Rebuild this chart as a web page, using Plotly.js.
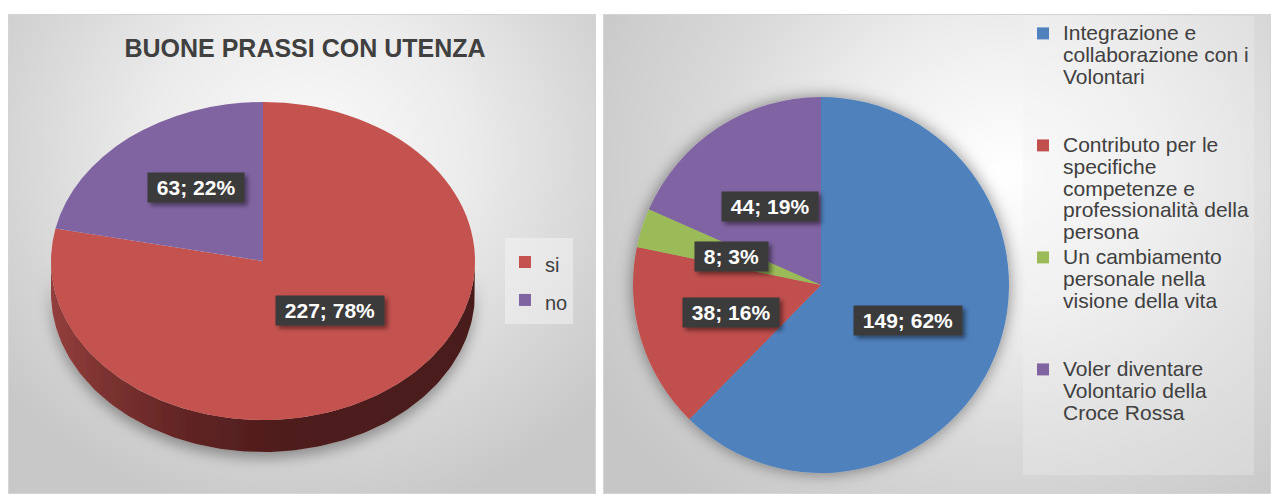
<!DOCTYPE html>
<html><head><meta charset="utf-8">
<script src="https://cdn.plot.ly/plotly-3.0.1.min.js"></script>
<style>
html,body{margin:0;padding:0;background:#fff;}
body{width:1271px;height:494px;position:relative;overflow:hidden;}
.panel{position:absolute;top:14px;height:480px;box-shadow:inset 0 0 0 1px #d4d4d4;}
#p1{left:8px;width:588px;background:radial-gradient(ellipse 390px 370px at 300px 140px,#fafafa 0%,#ececec 40%,#d6d6d6 75%,#c8c8c8 100%);}
#p2{left:603px;width:668px;background:radial-gradient(ellipse 470px 430px at 400px 160px,#ffffff 0%,#ededed 35%,#d8d8d8 65%,#c6c6c6 100%);}
</style></head><body>
<div id="p1" class="panel"></div>
<div id="p2" class="panel"></div>
<script>
// ---- data ----
const leftTitle = 'BUONE PRASSI CON UTENZA';
const leftLabels = ['si', 'no'];
const leftValues = [227, 63];
const leftPct = [78, 22];
const rightLabels = [
  'Integrazione e collaborazione con i Volontari',
  'Contributo per le specifiche competenze e professionalità della persona',
  'Un cambiamento personale nella visione della vita',
  'Voler diventare Volontario della Croce Rossa'
];
const rightValues = [149, 38, 8, 44];
const rightPct = [62, 16, 3, 19];

// ---- style ----
const FONT = 'Liberation Sans, Arial, sans-serif';
const leftColors = ['#C4524F', '#8064A2'];
const rightColors = ['#4F81BD', '#C0504D', '#9BBB59', '#8064A2'];
const H = 480;
// left geometry (px inside panel)
const W1 = 588, cx1 = 255, cy1 = 247, rx1 = 212, ry1 = 159, depth = 32;
// right geometry
const W2 = 668, cx2 = 218, cy2 = 271, r2 = 188;

function midAngles(vals) {
  const tot = vals.reduce((a, b) => a + b, 0);
  let cum = 0;
  return vals.map(v => { const m = 2 * Math.PI * (cum + v / 2) / tot; cum += v; return m; });
}

function wrap(text, maxW, font) {
  const c = document.createElement('canvas').getContext('2d');
  c.font = font;
  const words = text.split(' ');
  const lines = [];
  let cur = '';
  words.forEach(w => {
    const t = cur ? cur + ' ' + w : w;
    if (cur && c.measureText(t).width > maxW) { lines.push(cur); cur = w; } else cur = t;
  });
  if (cur) lines.push(cur);
  return lines;
}

function labelAnn(x, y, v, p, yshift) {
  return {
    x: x, y: y, xref: 'x', yref: 'y', showarrow: false,
    text: '\u00a0' + v + '; ' + p + '%\u00a0',
    font: {family: FONT, size: 21, color: '#ffffff', weight: 'bold'},
    bgcolor: '#3b3b3b', borderpad: 3, yshift: yshift || 0
  };
}

function addFilter(gd, id, dx, dy, sd, op) {
  const ns = 'http://www.w3.org/2000/svg';
  const svg = gd.querySelector('svg.main-svg');
  let defs = svg.querySelector('defs');
  if (!defs) { defs = document.createElementNS(ns, 'defs'); svg.insertBefore(defs, svg.firstChild); }
  const f = document.createElementNS(ns, 'filter');
  f.setAttribute('id', id);
  f.setAttribute('x', '-30%'); f.setAttribute('y', '-30%');
  f.setAttribute('width', '160%'); f.setAttribute('height', '160%');
  const ds = document.createElementNS(ns, 'feDropShadow');
  ds.setAttribute('dx', dx); ds.setAttribute('dy', dy);
  ds.setAttribute('stdDeviation', sd);
  ds.setAttribute('flood-color', '#000'); ds.setAttribute('flood-opacity', op);
  f.appendChild(ds); defs.appendChild(f);
}

// ---- left chart ----
const sx = [], sy = [];
const N = 160;
for (let i = 0; i <= N; i++) { const t = Math.PI * i / N; sx.push(cx1 - rx1 * Math.cos(t)); sy.push(cy1 + ry1 * Math.sin(t)); }
for (let i = N; i >= 0; i--) { const t = Math.PI * i / N; sx.push(cx1 - rx1 * Math.cos(t)); sy.push(cy1 + depth + ry1 * Math.sin(t)); }

const side = {
  type: 'scatter', x: sx, y: sy, mode: 'lines', fill: 'toself',
  line: {width: 0, color: 'rgba(0,0,0,0)'},
  fillgradient: {type: 'horizontal', colorscale: [[0, '#943f3d'], [0.12, '#7d3331'], [0.35, '#5d2222'], [0.55, '#4f1d1d'], [1, '#4a1b1b']]},
  hoverinfo: 'skip', showlegend: false
};
const pie1 = {
  type: 'pie', labels: leftLabels.map(s => '<span style="font-size:20px">' + s + '</span>'),
  values: leftValues,
  marker: {colors: leftColors, line: {width: 0}},
  sort: false, direction: 'clockwise', rotation: 0,
  textinfo: 'none', hoverinfo: 'none',
  domain: {x: [(cx1 - rx1) / W1, (cx1 + rx1) / W1], y: [(H - cy1 - rx1) / H, (H - cy1 + rx1) / H]}
};
const m1 = midAngles(leftValues);
const ann1 = leftValues.map((v, i) => labelAnn(cx1 + 0.5 * rx1 * Math.sin(m1[i]), cy1 - 0.5 * ry1 * Math.cos(m1[i]), v, leftPct[i], 12));

const layout1 = {
  width: W1, height: H, margin: {l: 0, r: 0, t: 0, b: 0},
  paper_bgcolor: 'rgba(0,0,0,0)', plot_bgcolor: 'rgba(0,0,0,0)',
  xaxis: {range: [0, W1], visible: false, fixedrange: true},
  yaxis: {range: [H, 0], visible: false, fixedrange: true},
  title: {text: leftTitle, font: {family: FONT, size: 25, color: '#404040', weight: 'bold'},
    x: 297 / W1, xref: 'container', xanchor: 'center', y: 1 - 34 / H, yref: 'container', yanchor: 'middle'},
  showlegend: true,
  legend: {x: 497 / W1, xanchor: 'left', y: 1 - 224 / H, yanchor: 'top',
    bgcolor: 'rgba(246,246,246,0.5)', font: {family: FONT, size: 26.9, color: '#404040'}},
  annotations: ann1
};

Plotly.newPlot('p1', [side, pie1], layout1, {staticPlot: true, displayModeBar: false}).then(gd => {
  const k = ry1 / rx1;
  const pl = gd.querySelector('.pielayer');
  if (pl) pl.setAttribute('transform', 'translate(0,' + (cy1 * (1 - k)) + ') scale(1,' + k + ')');
  addFilter(gd, 'shL', 0, 6, 7, 0.35);
  addFilter(gd, 'shLab1', 3, 3, 2, 0.45);
  const sl = gd.querySelector('.scatterlayer');
  if (sl) sl.setAttribute('filter', 'url(#shL)');
  gd.querySelectorAll('.annotation rect.bg').forEach(r => r.setAttribute('filter', 'url(#shLab1)'));
});

// ---- right chart ----
const LEG_PX = 21;
const wrapped = rightLabels.map(s => wrap(s, 193, LEG_PX + 'px ' + FONT));
const maxLines = 5;
const rightNames = wrapped.map(lines => {
  const l = lines.slice();
  while (l.length < maxLines) l.push('\u00a0');
  return l.map(t => '<span style="font-size:' + LEG_PX + 'px">' + t + '</span>').join('<br>');
});
const pie2 = {
  type: 'pie', labels: rightNames, values: rightValues,
  marker: {colors: rightColors, line: {width: 0}},
  sort: false, direction: 'clockwise', rotation: 0,
  textinfo: 'none', hoverinfo: 'none',
  domain: {x: [(cx2 - r2) / W2, (cx2 + r2) / W2], y: [(H - cy2 - r2) / H, (H - cy2 + r2) / H]}
};
const m2 = midAngles(rightValues);
const ann2 = rightValues.map((v, i) => labelAnn(cx2 + 0.5 * r2 * Math.sin(m2[i]), cy2 - 0.5 * r2 * Math.cos(m2[i]), v, rightPct[i], 0));

const layout2 = {
  width: W2, height: H, margin: {l: 0, r: 0, t: 0, b: 0},
  paper_bgcolor: 'rgba(0,0,0,0)', plot_bgcolor: 'rgba(0,0,0,0)',
  xaxis: {range: [0, W2], visible: false, fixedrange: true},
  yaxis: {range: [H, 0], visible: false, fixedrange: true},
  showlegend: true,
  legend: {x: 420 / W2, xanchor: 'left', y: 1 - 2 / H, yanchor: 'top', valign: 'top',
    bgcolor: 'rgba(242,242,242,0.3)', font: {family: FONT, size: 16.77, color: '#404040'}},
  annotations: ann2
};

Plotly.newPlot('p2', [pie2], layout2, {staticPlot: true, displayModeBar: false}).then(gd => {
  addFilter(gd, 'shR', 0, 0, 8, 0.45);
  addFilter(gd, 'shLab2', 3, 3, 2, 0.45);
  const pl = gd.querySelector('.pielayer');
  if (pl) pl.setAttribute('filter', 'url(#shR)');
  gd.querySelectorAll('.annotation rect.bg').forEach(r => r.setAttribute('filter', 'url(#shLab2)'));
});
</script>
</body></html>
